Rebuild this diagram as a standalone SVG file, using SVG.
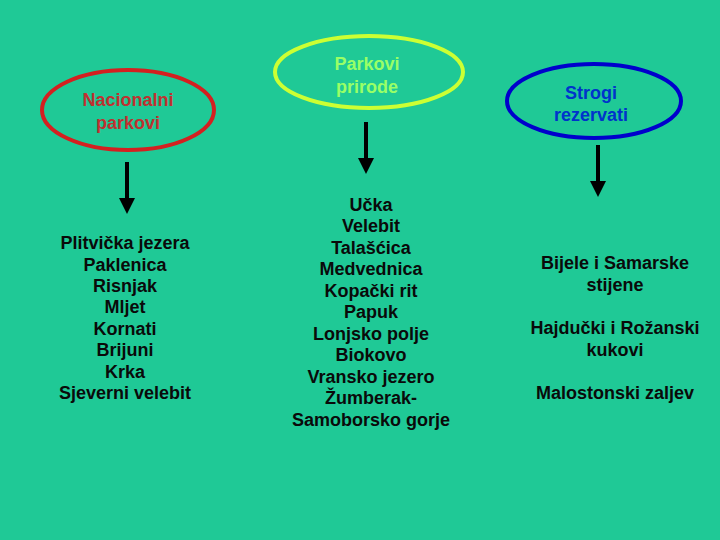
<svg xmlns="http://www.w3.org/2000/svg" width="720" height="540" viewBox="0 0 720 540">
<style>
text{font-family:"Liberation Sans",Arial,sans-serif;font-weight:bold;font-size:18px;text-anchor:middle}
.item{fill:#0a0a0a}
.ell{fill:none;stroke-width:4}
</style>
<defs>
<marker id="ah" markerWidth="4" markerHeight="4" refX="0" refY="2" orient="auto" markerUnits="strokeWidth" viewBox="0 0 4 4">
<path d="M0,0 L4,2 L0,4 Z" fill="#000"/>
</marker>
</defs>
<rect width="720" height="540" fill="#1fc996"/>
<g id="nacionalni">
<ellipse class="ell" cx="128" cy="110" rx="86" ry="40" stroke="#d42020"/>
<text x="128" y="106" fill="#c03030">Nacionalni</text>
<text x="128" y="129" fill="#c03030">parkovi</text>
</g>
<g id="prirode">
<ellipse class="ell" cx="369" cy="72" rx="94" ry="36" stroke="#ccff33"/>
<text x="367" y="70" fill="#99ff66">Parkovi</text>
<text x="367" y="93" fill="#99ff66">prirode</text>
</g>
<g id="strogi">
<ellipse class="ell" cx="594" cy="101" rx="87" ry="37" stroke="#0000cc"/>
<text x="591" y="99" fill="#0033cc">Strogi</text>
<text x="591" y="121" fill="#0033cc">rezervati</text>
</g>
<g id="connectors" stroke="#000" stroke-width="4">
<line x1="127" y1="162" x2="127" y2="198" marker-end="url(#ah)"/>
<line x1="366" y1="122" x2="366" y2="158" marker-end="url(#ah)"/>
<line x1="598" y1="145" x2="598" y2="181" marker-end="url(#ah)"/>
</g>
<g id="list-nacionalni" class="item">
<text x="125" y="249">Plitvička jezera</text>
<text x="125" y="271">Paklenica</text>
<text x="125" y="292">Risnjak</text>
<text x="125" y="313">Mljet</text>
<text x="125" y="335">Kornati</text>
<text x="125" y="356">Brijuni</text>
<text x="125" y="378">Krka</text>
<text x="125" y="399">Sjeverni velebit</text>
</g>
<g id="list-prirode" class="item">
<text x="371" y="211">Učka</text>
<text x="371" y="232">Velebit</text>
<text x="371" y="254">Talašćica</text>
<text x="371" y="275">Medvednica</text>
<text x="371" y="297">Kopački rit</text>
<text x="371" y="318">Papuk</text>
<text x="371" y="340">Lonjsko polje</text>
<text x="371" y="361">Biokovo</text>
<text x="371" y="383">Vransko jezero</text>
<text x="371" y="404">Žumberak-</text>
<text x="371" y="426">Samoborsko gorje</text>
</g>
<g id="list-strogi" class="item">
<text x="615" y="269">Bijele i Samarske</text>
<text x="615" y="291">stijene</text>
<text x="615" y="334">Hajdučki i  Rožanski</text>
<text x="615" y="356">kukovi</text>
<text x="615" y="399">Malostonski zaljev</text>
</g>
</svg>
